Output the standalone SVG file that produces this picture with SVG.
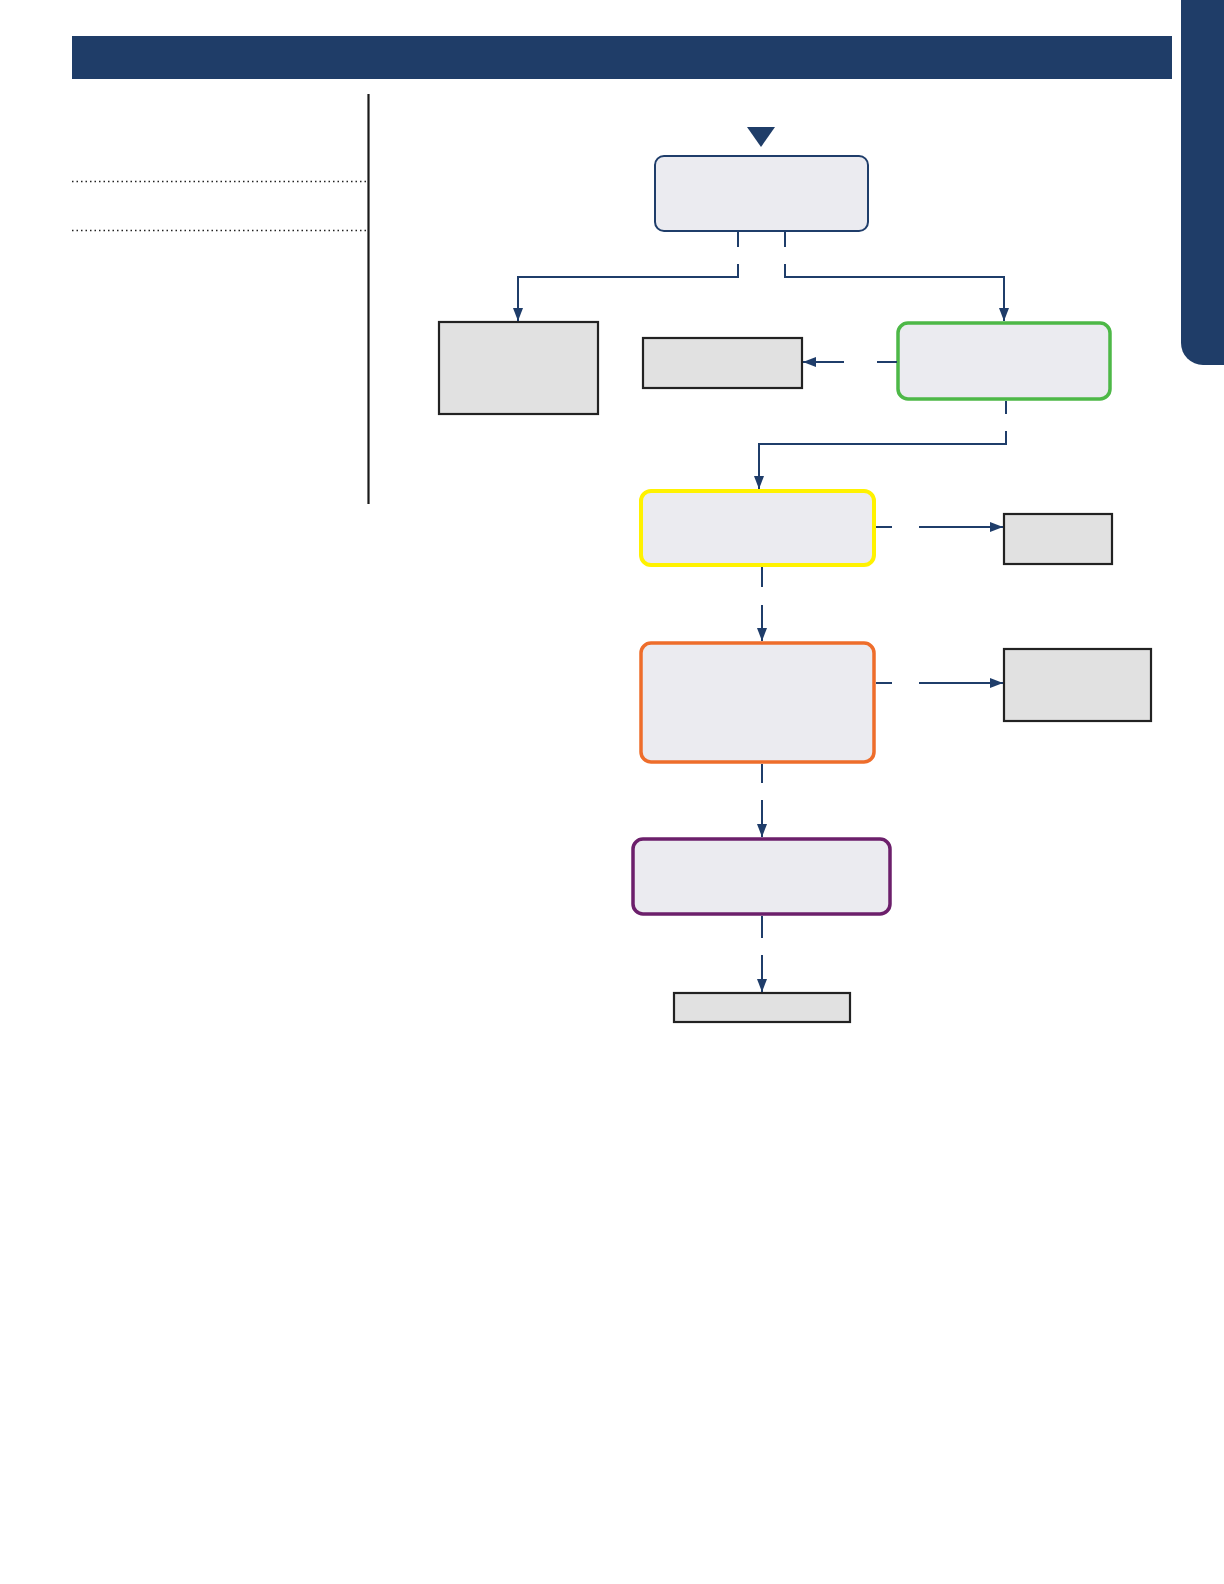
<svg xmlns="http://www.w3.org/2000/svg" width="1224" height="1584" viewBox="0 0 1224 1584">
<style>
.conn{fill:none;stroke:#1f3d6a;stroke-width:2}
.gray{fill:#e1e1e1;stroke:#222;stroke-width:2.2}
.soft{fill:#ebebf0}
.dot{stroke:#222;stroke-width:1.5;stroke-dasharray:1.5 3}
</style>
<defs>
<marker id="ah" viewBox="0 0 13 10" refX="13" refY="5" markerWidth="13" markerHeight="10" markerUnits="userSpaceOnUse" orient="auto">
<path d="M0,0 L13,5 L0,10 z" fill="#1f3d6a"/>
</marker>
</defs>
<rect width="1224" height="1584" fill="#fff"/>
<g id="header">
<rect x="72" y="36" width="1100" height="43" fill="#1f3d68"/>
<path d="M1181,0 H1224 V365 H1203 A22,22 0 0 1 1181,343 Z" fill="#1f3d68"/>
</g>
<g id="sidebar">
<line x1="368.5" y1="94" x2="368.5" y2="504" stroke="#1a1a1a" stroke-width="2.2"/>
<line class="dot" x1="72" y1="181.5" x2="368" y2="181.5"/>
<line class="dot" x1="72" y1="230.5" x2="368" y2="230.5"/>
</g>
<g id="start">
<path d="M747,127 H775 L761,147 Z" fill="#1f3d68"/>
</g>
<g id="n1"><rect class="soft" x="655" y="156" width="213" height="75" rx="9" stroke="#1f3d6a" stroke-width="2"/></g>
<g id="n2"><rect class="gray" x="439" y="322" width="159" height="92"/></g>
<g id="n3"><rect class="gray" x="643" y="338" width="159" height="50"/></g>
<g id="n4"><rect class="soft" x="898" y="323" width="212" height="76" rx="10" stroke="#4db847" stroke-width="3.5"/></g>
<g id="n5"><rect class="soft" x="641" y="491" width="233" height="74" rx="10" stroke="#fff200" stroke-width="4"/></g>
<g id="n6"><rect class="gray" x="1004" y="514" width="108" height="50"/></g>
<g id="n7"><rect class="soft" x="641" y="643" width="233" height="119" rx="10" stroke="#ee6d2b" stroke-width="3.5"/></g>
<g id="n8"><rect class="gray" x="1004" y="649" width="147" height="72"/></g>
<g id="n9"><rect class="soft" x="633" y="839" width="257" height="75" rx="10" stroke="#6c1f6b" stroke-width="3.5"/></g>
<g id="n10"><rect class="gray" x="674" y="993" width="176" height="29"/></g>
<g id="connectors">
<path class="conn" d="M738,232 V247"/>
<path class="conn" d="M738,264 V277 H518 V321" marker-end="url(#ah)"/>
<path class="conn" d="M785,232 V247"/>
<path class="conn" d="M785,264 V277 H1004 V321" marker-end="url(#ah)"/>
<path class="conn" d="M897,362 H877"/>
<path class="conn" d="M844,362 H803" marker-end="url(#ah)"/>
<path class="conn" d="M1006,401 V414"/>
<path class="conn" d="M1006,431 V444 H759 V489" marker-end="url(#ah)"/>
<path class="conn" d="M876,527 H892"/>
<path class="conn" d="M919,527 H1003" marker-end="url(#ah)"/>
<path class="conn" d="M762,567 V587"/>
<path class="conn" d="M762,605 V641" marker-end="url(#ah)"/>
<path class="conn" d="M876,683 H892"/>
<path class="conn" d="M919,683 H1003" marker-end="url(#ah)"/>
<path class="conn" d="M762,764 V783"/>
<path class="conn" d="M762,800 V837" marker-end="url(#ah)"/>
<path class="conn" d="M762,916 V938"/>
<path class="conn" d="M762,955 V992" marker-end="url(#ah)"/>
</g>
</svg>
